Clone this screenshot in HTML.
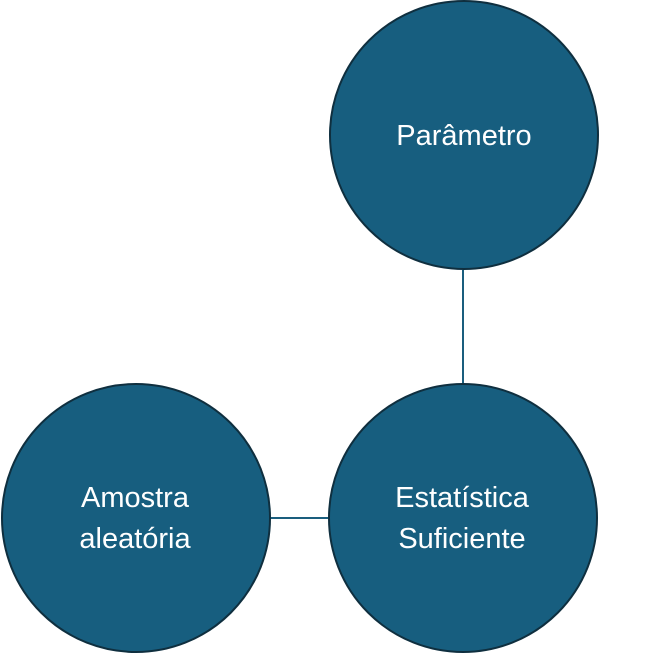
<!DOCTYPE html>
<html>
<head>
<meta charset="utf-8">
<style>
html,body{margin:0;padding:0;background:#fff;}
svg{display:block;}
text{font-family:"Liberation Sans","DejaVu Sans",sans-serif;font-size:29px;fill:#fff;}
</style>
</head>
<body>
<svg width="645" height="655" viewBox="0 0 645 655">
  <line x1="463" y1="270" x2="463" y2="384" stroke="#1a5e7e" stroke-width="2"/>
  <line x1="271" y1="518" x2="329" y2="518" stroke="#1a5e7e" stroke-width="2"/>
  <g>
    <circle cx="464" cy="135" r="134" fill="#175e7f" stroke="#0f2f3f" stroke-width="2"/>
    <text x="464" y="145" text-anchor="middle">Parâmetro</text>
  </g>
  <g>
    <circle cx="463" cy="518" r="134" fill="#175e7f" stroke="#0f2f3f" stroke-width="2"/>
    <text x="462" y="507" text-anchor="middle">Estatística</text>
    <text x="462" y="548" text-anchor="middle">Suficiente</text>
  </g>
  <g>
    <circle cx="136" cy="518" r="134" fill="#175e7f" stroke="#0f2f3f" stroke-width="2"/>
    <text x="135" y="507" text-anchor="middle">Amostra</text>
    <text x="135" y="548" text-anchor="middle">aleatória</text>
  </g>
</svg>
</body>
</html>
